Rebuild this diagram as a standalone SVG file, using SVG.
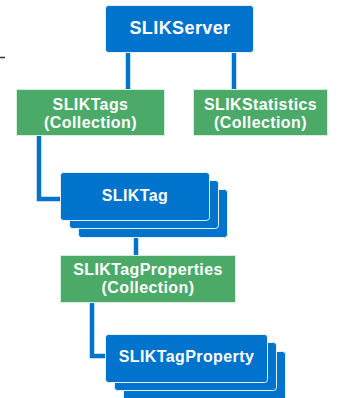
<svg xmlns="http://www.w3.org/2000/svg" width="349" height="398" viewBox="0 0 349 398">
<style>
.blue{fill:#0073CC;stroke:#E6F0FA;stroke-width:1}
.green{fill:#4BAA68;stroke:#D8EEDD;stroke-width:1}
.t{font-family:"Liberation Sans",Arial,sans-serif;font-weight:bold;fill:#fff;text-anchor:middle;font-size:16px;letter-spacing:0.4px}
.c{stroke:#0073CC;stroke-width:4.5;fill:none}
</style>
<rect width="349" height="398" fill="#fff"/>
<line x1="0" y1="57.5" x2="5" y2="57.5" stroke="#333" stroke-width="1.5"/>
<g id="connectors">
<line class="c" x1="128" y1="52" x2="128" y2="90"/>
<line class="c" x1="234" y1="52" x2="234" y2="90"/>
<polyline class="c" points="39,136 39,199 62,199"/>
<line class="c" x1="136" y1="237" x2="136" y2="256"/>
<polyline class="c" points="92,302 92,356 106,356"/>
</g>
<g id="SLIKServer">
<rect class="blue" x="105.5" y="5.5" width="148" height="47" rx="3"/>
<text class="t" x="180" y="34" style="font-size:18px">SLIKServer</text>
</g>
<g id="SLIKTags">
<rect class="green" x="16.5" y="89.5" width="148" height="46"/>
<text class="t" x="90.5" y="110">SLIKTags</text>
<text class="t" x="90.5" y="128">(Collection)</text>
</g>
<g id="SLIKStatistics">
<rect class="green" x="193.5" y="89.5" width="134" height="46"/>
<text class="t" x="260.5" y="110">SLIKStatistics</text>
<text class="t" x="260.5" y="128">(Collection)</text>
</g>
<g id="SLIKTag">
<rect class="blue" x="78.5" y="189.5" width="149" height="48" rx="3"/>
<rect class="blue" x="69.5" y="180.5" width="149" height="48" rx="3"/>
<rect class="blue" x="60.5" y="172.5" width="149" height="48" rx="3"/>
<text class="t" x="135" y="201">SLIKTag</text>
</g>
<g id="SLIKTagProperties">
<rect class="green" x="60.5" y="255.5" width="175" height="47"/>
<text class="t" x="148" y="275">SLIKTagProperties</text>
<text class="t" x="148" y="293">(Collection)</text>
</g>
<g id="SLIKTagProperty">
<rect class="blue" x="123.5" y="351.5" width="162" height="52" rx="3"/>
<rect class="blue" x="114.5" y="342.5" width="162" height="48" rx="3"/>
<rect class="blue" x="105.5" y="334.5" width="162" height="48" rx="3"/>
<text class="t" x="186.5" y="362">SLIKTagProperty</text>
</g>
</svg>
